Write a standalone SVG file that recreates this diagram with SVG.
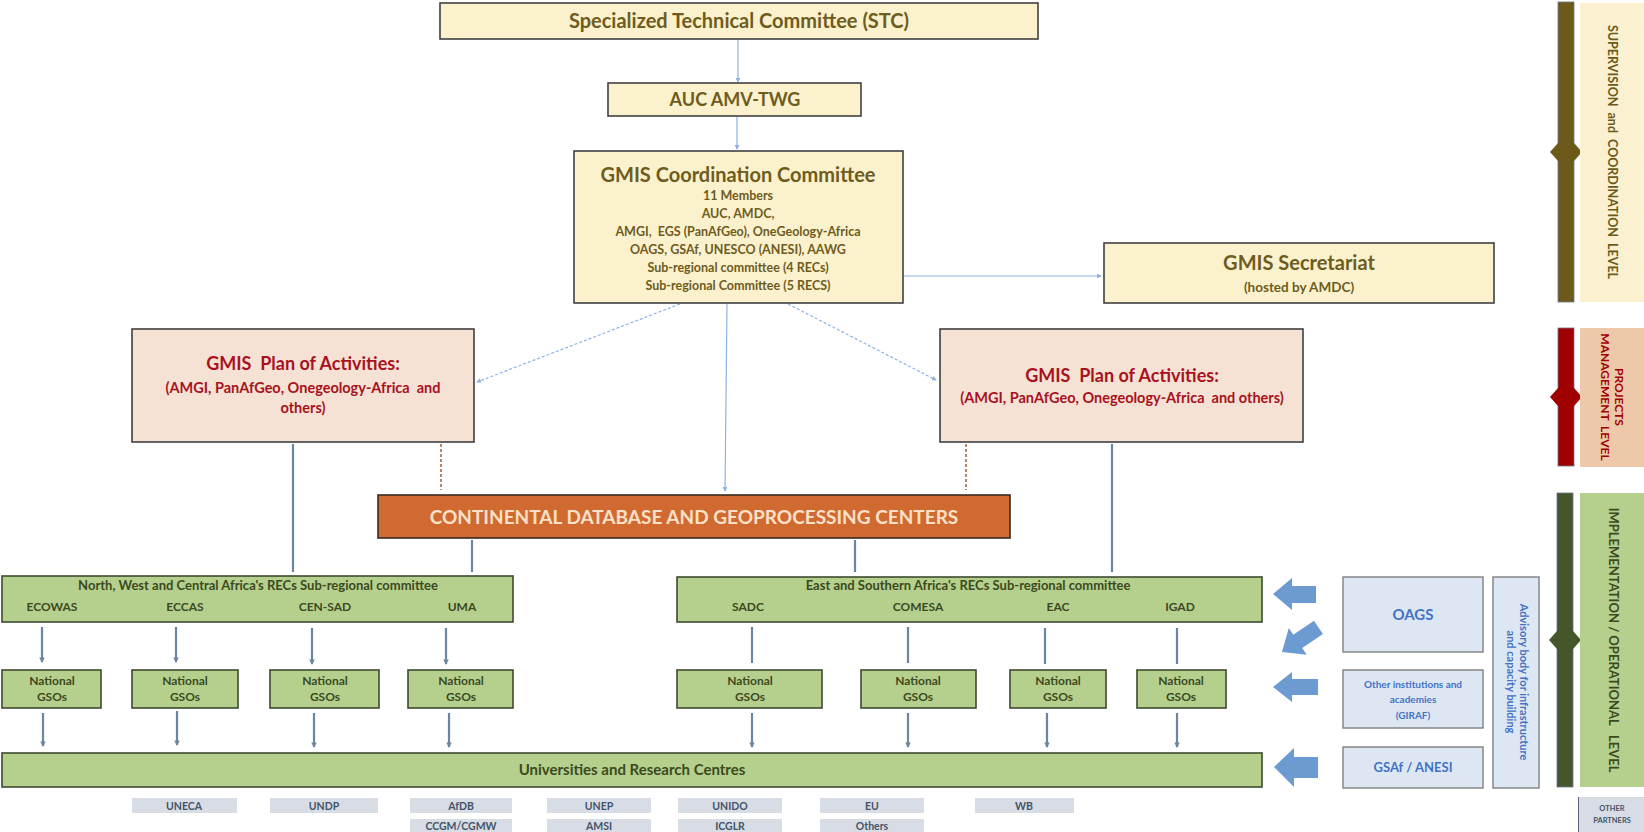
<svg xmlns="http://www.w3.org/2000/svg" width="1644" height="832" viewBox="0 0 1644 832">
<defs>
<style>
text{font-family:Lato,"Liberation Sans",sans-serif;font-weight:bold;text-anchor:middle;white-space:pre}
.cream{fill:#FCF1CD;stroke:#404040;stroke-width:1.6}
.ctxt{fill:#6E5C1E}
.peach{fill:#F5E2D5;stroke:#404040;stroke-width:1.6}
.ptxt{fill:#A8121E}
.green{fill:#B5CF8D;stroke:#3E4A30;stroke-width:1.6}
.gtxt{fill:#3C4A1E}
.lblue{fill:#DDE7F3;stroke:#7F7F7F;stroke-width:1.4}
.btxt{fill:#4472C4}
.part{fill:#D7DCE5}
.parttxt{fill:#44546A;font-size:10.5px}
.thin{stroke:#8DB3E2;stroke-width:1.2;fill:none}
.dot{stroke:#8DB3E2;stroke-width:1.2;fill:none;stroke-dasharray:3 2}
.gray{stroke:#6C86A2;stroke-width:2.2;fill:none}
.dash{stroke:#B8876A;stroke-width:2;fill:none;stroke-dasharray:3 2}
.barrow{fill:#6C9BD2}
</style>
<marker id="ab" viewBox="0 0 6 6" refX="5" refY="3" markerWidth="4" markerHeight="4" orient="auto"><path d="M0,0L6,3L0,6z" fill="#8DB3E2"/></marker>
<marker id="ag" viewBox="0 0 6 6" refX="5" refY="3" markerWidth="2.5" markerHeight="2.5" orient="auto"><path d="M0,0L6,3L0,6z" fill="#6C86A2"/></marker>
</defs>

<g id="connectors">
<line class="thin" x1="738" y1="40" x2="738" y2="82" marker-end="url(#ab)"/>
<line class="thin" x1="737" y1="117" x2="737" y2="149" marker-end="url(#ab)"/>
<line class="thin" x1="727" y1="304" x2="725" y2="491" marker-end="url(#ab)"/>
<line class="thin" x1="903" y1="276" x2="1101" y2="276" marker-end="url(#ab)"/>
<line class="dot" x1="680" y1="304" x2="477" y2="382" marker-end="url(#ab)"/>
<line class="dot" x1="788" y1="304" x2="936" y2="380" marker-end="url(#ab)"/>
<line class="gray" x1="293" y1="444" x2="293" y2="572"/>
<line class="gray" x1="472" y1="540" x2="472" y2="572"/>
<line class="gray" x1="855" y1="540" x2="855" y2="572"/>
<line class="gray" x1="1112" y1="444" x2="1112" y2="572"/>
<line class="dash" x1="441" y1="444" x2="441" y2="490"/>
<line class="dash" x1="966" y1="444" x2="966" y2="490"/>
<g class="gray">
<line x1="42" y1="627" x2="42" y2="662" marker-end="url(#ag)"/>
<line x1="176" y1="627" x2="176" y2="662" marker-end="url(#ag)"/>
<line x1="312" y1="628" x2="312" y2="664" marker-end="url(#ag)"/>
<line x1="446" y1="628" x2="446" y2="664" marker-end="url(#ag)"/>
<line x1="752" y1="627" x2="752" y2="663"/>
<line x1="908" y1="627" x2="908" y2="663"/>
<line x1="1045" y1="628" x2="1045" y2="664"/>
<line x1="1177" y1="628" x2="1177" y2="664"/>
<line x1="43" y1="713" x2="43" y2="746" marker-end="url(#ag)"/>
<line x1="177" y1="711" x2="177" y2="745" marker-end="url(#ag)"/>
<line x1="314" y1="713" x2="314" y2="747" marker-end="url(#ag)"/>
<line x1="449" y1="713" x2="449" y2="747" marker-end="url(#ag)"/>
<line x1="752" y1="713" x2="752" y2="747" marker-end="url(#ag)"/>
<line x1="908" y1="713" x2="908" y2="747" marker-end="url(#ag)"/>
<line x1="1047" y1="713" x2="1047" y2="747" marker-end="url(#ag)"/>
<line x1="1177" y1="713" x2="1177" y2="747" marker-end="url(#ag)"/>
</g>
<polygon class="barrow" points="1273,594 1292,578 1292,586 1316,586 1316,603 1292,603 1292,610"/>
<polygon class="barrow" transform="translate(1282,652) rotate(-34)" points="0,0 19,-16 19,-8 44,-8 44,8 19,8 19,16"/>
<polygon class="barrow" points="1273,687 1292,672 1292,679 1318,679 1318,695 1292,695 1292,702"/>
<polygon class="barrow" points="1274,767 1294,748 1294,757 1318,757 1318,778 1294,778 1294,787"/>
</g>

<g id="stc"><rect class="cream" x="440" y="3" width="598" height="36"/><text class="ctxt" x="739" y="28" font-size="20">Specialized Technical Committee (STC)</text></g>
<g id="auc"><rect class="cream" x="608" y="83" width="253" height="33"/><text class="ctxt" x="735" y="106" font-size="18">AUC AMV-TWG</text></g>
<g id="coord"><rect class="cream" x="574" y="151" width="329" height="152"/>
<text class="ctxt" x="738" y="182" font-size="20">GMIS Coordination Committee</text>
<text class="ctxt" font-size="12.5" xml:space="preserve"><tspan x="738" y="200">11 Members</tspan><tspan x="738" y="218">AUC, AMDC,</tspan><tspan x="738" y="236">AMGI,  EGS (PanAfGeo), OneGeology-Africa</tspan><tspan x="738" y="254">OAGS, GSAf, UNESCO (ANESI), AAWG</tspan><tspan x="738" y="272">Sub-regional committee (4 RECs)</tspan><tspan x="738" y="290">Sub-regional Committee (5 RECS)</tspan></text></g>
<g id="secretariat"><rect class="cream" x="1104" y="243" width="390" height="60"/><text class="ctxt" x="1299" y="270" font-size="20">GMIS Secretariat</text><text class="ctxt" x="1299" y="292" font-size="13.5">(hosted by AMDC)</text></g>

<g id="plan-left"><rect class="peach" x="132" y="329" width="342" height="113"/>
<text class="ptxt" x="303" y="370" font-size="18" xml:space="preserve">GMIS  Plan of Activities:</text>
<text class="ptxt" font-size="14.5" xml:space="preserve"><tspan x="303" y="393">(AMGI, PanAfGeo, Onegeology-Africa  and</tspan><tspan x="303" y="413">others)</tspan></text></g>
<g id="plan-right"><rect class="peach" x="940" y="329" width="363" height="113"/>
<text class="ptxt" x="1122" y="382" font-size="18" xml:space="preserve">GMIS  Plan of Activities:</text>
<text class="ptxt" x="1122" y="403" font-size="14.5" xml:space="preserve">(AMGI, PanAfGeo, Onegeology-Africa  and others)</text></g>

<g id="continental"><rect x="378" y="495" width="632" height="43" fill="#D06A30" stroke="#3A2A20" stroke-width="1.6"/><text x="694" y="524" font-size="19" fill="#FBE0C8">CONTINENTAL DATABASE AND GEOPROCESSING CENTERS</text></g>

<g id="rec-left"><rect class="green" x="2" y="576" width="511" height="46"/>
<text class="gtxt" x="258" y="590" font-size="13">North, West and Central Africa's RECs Sub-regional committee</text>
<text class="gtxt" font-size="12" y="611"><tspan x="52">ECOWAS</tspan><tspan x="185">ECCAS</tspan><tspan x="325">CEN-SAD</tspan><tspan x="462">UMA</tspan></text></g>
<g id="rec-right"><rect class="green" x="677" y="577" width="585" height="45"/>
<text class="gtxt" x="968" y="590" font-size="13">East and Southern Africa's RECs Sub-regional committee</text>
<text class="gtxt" font-size="12" y="611"><tspan x="748">SADC</tspan><tspan x="918">COMESA</tspan><tspan x="1058">EAC</tspan><tspan x="1180">IGAD</tspan></text></g>

<g id="gso1"><rect class="green" x="2" y="670" width="99" height="38"/><text class="gtxt" font-size="12"><tspan x="52" y="685">National</tspan><tspan x="52" y="701">GSOs</tspan></text></g>
<g id="gso2"><rect class="green" x="132" y="670" width="106" height="38"/><text class="gtxt" font-size="12"><tspan x="185" y="685">National</tspan><tspan x="185" y="701">GSOs</tspan></text></g>
<g id="gso3"><rect class="green" x="270" y="670" width="109" height="38"/><text class="gtxt" font-size="12"><tspan x="325" y="685">National</tspan><tspan x="325" y="701">GSOs</tspan></text></g>
<g id="gso4"><rect class="green" x="408" y="670" width="105" height="38"/><text class="gtxt" font-size="12"><tspan x="461" y="685">National</tspan><tspan x="461" y="701">GSOs</tspan></text></g>
<g id="gso5"><rect class="green" x="677" y="670" width="145" height="38"/><text class="gtxt" font-size="12"><tspan x="750" y="685">National</tspan><tspan x="750" y="701">GSOs</tspan></text></g>
<g id="gso6"><rect class="green" x="861" y="670" width="115" height="38"/><text class="gtxt" font-size="12"><tspan x="918" y="685">National</tspan><tspan x="918" y="701">GSOs</tspan></text></g>
<g id="gso7"><rect class="green" x="1010" y="670" width="96" height="38"/><text class="gtxt" font-size="12"><tspan x="1058" y="685">National</tspan><tspan x="1058" y="701">GSOs</tspan></text></g>
<g id="gso8"><rect class="green" x="1137" y="670" width="89" height="38"/><text class="gtxt" font-size="12"><tspan x="1181" y="685">National</tspan><tspan x="1181" y="701">GSOs</tspan></text></g>

<g id="universities"><rect class="green" x="2" y="753" width="1260" height="34" stroke="#B5CF8D"/><text class="gtxt" x="632" y="775" font-size="15">Universities and Research Centres</text></g>

<g id="oags"><rect class="lblue" x="1343" y="577" width="140" height="75"/><text class="btxt" x="1413" y="620" font-size="15">OAGS</text></g>
<g id="other-inst"><rect class="lblue" x="1343" y="670" width="140" height="58"/><text class="btxt" font-size="10" font-weight="normal"><tspan x="1413" y="688">Other institutions and</tspan><tspan x="1413" y="703">academies</tspan><tspan x="1413" y="719">(GIRAF)</tspan></text></g>
<g id="gsaf"><rect class="lblue" x="1343" y="747" width="140" height="41"/><text class="btxt" x="1413" y="772" font-size="13">GSAf / ANESI</text></g>
<g id="advisory"><rect class="lblue" x="1493" y="577" width="46" height="211"/><text class="btxt" font-size="11" font-weight="normal" transform="translate(1516,682) rotate(90)"><tspan x="0" y="-4">Advisory body for infrastructure</tspan><tspan x="0" y="9">and capacity building</tspan></text></g>

<g id="level-supervision">
<rect x="1558" y="2" width="16" height="300" fill="#6B5A1A" stroke="#6A7590" stroke-width="0.8"/>
<polygon points="1550,152 1558,143 1574,143 1582,152 1574,161 1558,161" fill="#6B5A1A"/>
<rect x="1580" y="3" width="64" height="299" fill="#FBF0D0"/>
<text x="0" y="4.5" font-size="12.5" font-weight="normal" fill="#6B5A1A" transform="translate(1612,152) rotate(90)" xml:space="preserve">SUPERVISION  and  COORDINATION  LEVEL</text>
</g>
<g id="level-projects">
<rect x="1558" y="328" width="16" height="138" fill="#A00000" stroke="#6A7590" stroke-width="0.8"/>
<polygon points="1550,397 1558,388 1574,388 1582,397 1574,406 1558,406" fill="#A00000"/>
<rect x="1580" y="328" width="64" height="139" fill="#EDC8A9"/>
<text font-size="12" font-weight="normal" fill="#A00000" transform="translate(1612,397) rotate(90)" xml:space="preserve"><tspan x="0" y="-3">PROJECTS</tspan><tspan x="0" y="11">MANAGEMENT  LEVEL</tspan></text>
</g>
<g id="level-implementation">
<rect x="1557" y="493" width="16" height="294" fill="#44572A" stroke="#6A7590" stroke-width="0.8"/>
<polygon points="1549,640 1557,631 1573,631 1581,640 1573,649 1557,649" fill="#44572A"/>
<rect x="1580" y="493" width="64" height="294" fill="#B5D08C"/>
<text x="0" y="4.5" font-size="13" font-weight="normal" fill="#3B4A22" transform="translate(1613,640) rotate(90)" xml:space="preserve">IMPLEMENTATION / OPERATIONAL   LEVEL</text>
</g>

<g id="partners">
<rect class="part" x="132" y="798" width="105" height="15"/><text class="parttxt" x="184" y="810">UNECA</text>
<rect class="part" x="270" y="798" width="108" height="15"/><text class="parttxt" x="324" y="810">UNDP</text>
<rect class="part" x="410" y="798" width="102" height="15"/><text class="parttxt" x="461" y="810">AfDB</text>
<rect class="part" x="547" y="798" width="104" height="15"/><text class="parttxt" x="599" y="810">UNEP</text>
<rect class="part" x="678" y="798" width="104" height="15"/><text class="parttxt" x="730" y="810">UNIDO</text>
<rect class="part" x="820" y="798" width="104" height="15"/><text class="parttxt" x="872" y="810">EU</text>
<rect class="part" x="975" y="798" width="99" height="15"/><text class="parttxt" x="1024" y="810">WB</text>
<rect class="part" x="410" y="819" width="102" height="13"/><text class="parttxt" x="461" y="830">CCGM/CGMW</text>
<rect class="part" x="547" y="819" width="104" height="13"/><text class="parttxt" x="599" y="830">AMSI</text>
<rect class="part" x="678" y="819" width="104" height="13"/><text class="parttxt" x="730" y="830">ICGLR</text>
<rect class="part" x="820" y="819" width="104" height="13"/><text class="parttxt" x="872" y="830">Others</text>
</g>
<g id="other-partners"><rect class="part" x="1578" y="797" width="66" height="35"/><line x1="1578.5" y1="797" x2="1578.5" y2="832" stroke="#5A6680" stroke-width="1"/><text font-size="7.5" font-weight="normal" fill="#44546A"><tspan x="1612" y="811">OTHER</tspan><tspan x="1612" y="823">PARTNERS</tspan></text></g>
</svg>
